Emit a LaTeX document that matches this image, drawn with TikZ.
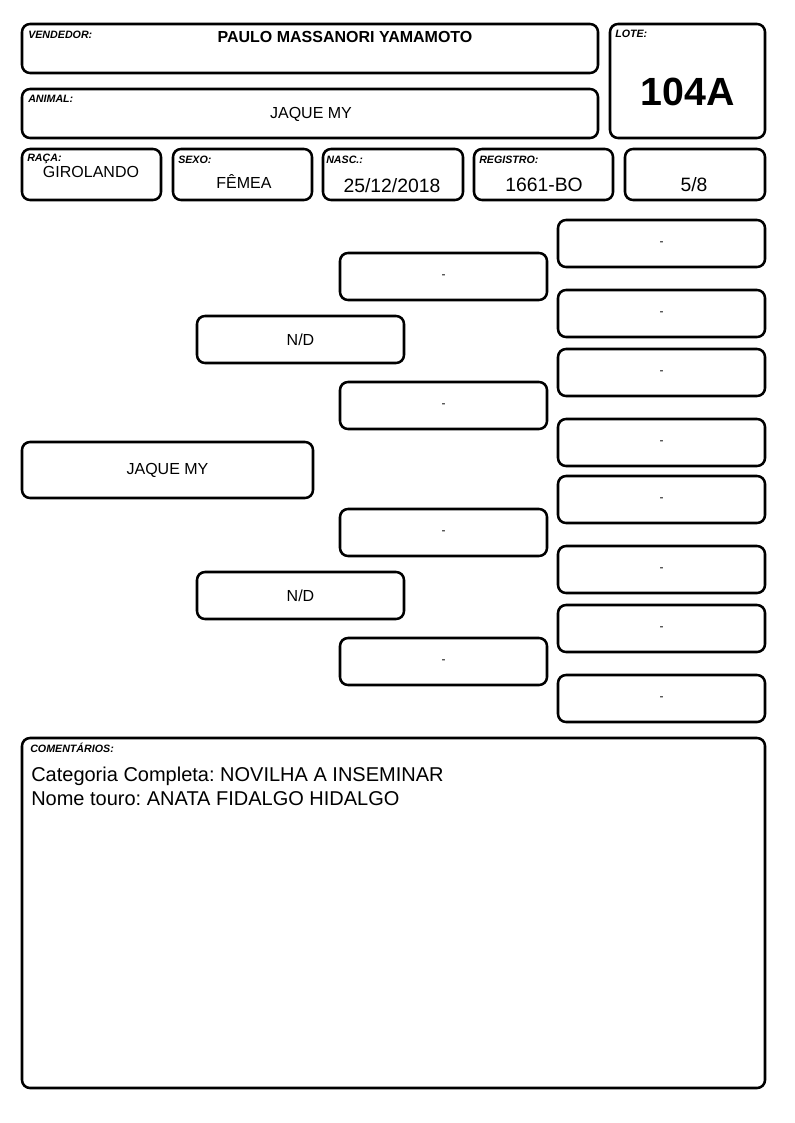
\documentclass[tikz,border=0pt]{standalone}
\usepackage{fontspec}
\setmainfont{Liberation Sans}
\frenchspacing

\tikzset{
    caixa/.style={draw, line width=1.9pt, rounded corners=6pt, inner sep=0pt},
    rotulo/.style={font=\fontsize{8}{9}\selectfont\bfseries\itshape, anchor=base west, inner sep=0pt},
    valor/.style={font=\fontsize{12}{14}\selectfont, anchor=base, inner sep=0pt},
    numero/.style={font=\fontsize{14.5}{16}\selectfont, anchor=base, inner sep=0pt},
    comentario/.style={font=\fontsize{15}{18}\selectfont, anchor=base west, inner sep=0pt},
}

% box from (x1,y1) to (x2,y2), in pixels of the page
\newcommand{\quadro}[6]{%
    \node[caixa, minimum width={(#4-#2-2)*0.75pt}, minimum height={(#5-#3-2)*0.75pt}]
        (#1) at ({(#2+#4)/2},{(#3+#5)/2}) {#6};}

\begin{document}
\begin{tikzpicture}[x=0.75pt, y=-0.75pt]

    \useasboundingbox (0,0) rectangle (794,1123);

    % Vendedor
    \quadro{vendedor}{21}{23}{599}{74}{}
    \node[rotulo] (vendedorR) at (28,39) {VENDEDOR:};
    \node[valor, font=\fontsize{12}{14}\selectfont\bfseries] (vendedorV) at (345,43) {PAULO MASSANORI YAMAMOTO};

    % Lote
    \quadro{lote}{609}{23}{766}{139}{}
    \node[rotulo] (loteR) at (615,38) {LOTE:};
    \node[anchor=base, inner sep=0pt, font=\fontsize{29.5}{32}\selectfont\bfseries] (loteV) at (688,106) {104A};

    % Animal
    \quadro{animal}{21}{88}{599}{139}{}
    \node[rotulo] (animalR) at (28,103) {ANIMAL:};
    \node[valor] (animalV) at (311,119) {JAQUE MY};

    % Linha de dados
    \quadro{raca}{21}{148}{162}{201}{}
    \node[rotulo] (racaR) at (27,162) {RAÇA:};
    \node[valor] (racaV) at (91,178) {GIROLANDO};

    \quadro{sexo}{172}{148}{313}{201}{}
    \node[rotulo] (sexoR) at (178,164) {SEXO:};
    \node[valor] (sexoV) at (244,189) {FÊMEA};

    \quadro{nasc}{322}{148}{464}{201}{}
    \node[rotulo] (nascR) at (326,164) {NASC.:};
    \node[numero] (nascV) at (392,193) {25/12/2018};

    \quadro{registro}{473}{148}{614}{201}{}
    \node[rotulo] (registroR) at (479,164) {REGISTRO:};
    \node[numero] (registroV) at (544,192) {1661-BO};

    \quadro{grau}{624}{148}{766}{201}{}
    \node[numero] (grauV) at (694,192) {5/8};

    % Genealogia
    \quadro{ped}{21}{441}{314}{499}{\fontsize{12}{14}\selectfont JAQUE MY}
    \quadro{pai}{196}{315}{405}{364}{\fontsize{12}{14}\selectfont N/D}
    \quadro{mae}{196}{571}{405}{620}{\fontsize{12}{14}\selectfont N/D}

    \foreach \n/\y in {1/252, 2/381, 3/508, 4/637} {
        \quadro{avo\n}{339}{\y}{548}{\y+49}{\fontsize{9}{10}\selectfont -}
    }

    \foreach \n/\y in {1/219, 2/289, 3/348, 4/418, 5/475, 6/545, 7/604, 8/674} {
        \quadro{bisavo\n}{557}{\y}{766}{\y+49}{\fontsize{9}{10}\selectfont -}
    }

    % Comentarios
    \quadro{comentarios}{21}{737}{766}{1089}{}
    \node[rotulo] (comentariosR) at (30,752) {COMENTÁRIOS:};
    \node[comentario] (categoria) at (31,781) {Categoria Completa: NOVILHA A INSEMINAR};
    \node[comentario] (touro) at (31,805) {Nome touro: ANATA FIDALGO HIDALGO};

\end{tikzpicture}
\end{document}
